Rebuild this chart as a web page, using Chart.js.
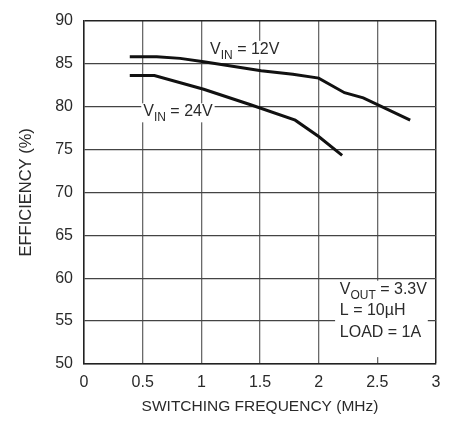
<!DOCTYPE html>
<html>
<head>
<meta charset="utf-8">
<script src="https://cdn.jsdelivr.net/npm/chart.js@4"></script>
<style>
  html, body { margin: 0; padding: 0; background: #fff; }
  #wrap { width: 453px; height: 421px; }
</style>
</head>
<body>
<div id="wrap"><canvas id="c" width="453" height="421"></canvas></div>
<script>
// Data
const freq12 = [0.39, 0.62, 0.82, 1.02, 1.51, 1.78, 2.0, 2.22, 2.38, 2.78];
const eff12  = [85.8, 85.8, 85.6, 85.2, 84.15, 83.75, 83.3, 81.6, 81.0, 78.4];
const freq24 = [0.39, 0.6, 1.02, 1.42, 1.8, 2.0, 2.2];
const eff24  = [83.6, 83.6, 82.0, 80.2, 78.4, 76.5, 74.3];
const xTicks = [0, 0.5, 1, 1.5, 2, 2.5, 3];
const yTicks = [50, 55, 60, 65, 70, 75, 80, 85, 90];
const xTitle = 'SWITCHING FREQUENCY (MHz)';
const yTitle = 'EFFICIENCY (%)';
const label12 = ['V', 'IN', ' = 12V'];
const label24 = ['V', 'IN', ' = 24V'];
const noteLines = [['V', 'OUT', ' = 3.3V'], ['L = 10µH', '', ''], ['LOAD = 1A', '', '']];

const FONT = '"Liberation Sans", Arial, sans-serif';
const INK = '#2a2a2a';

function pts(xs, ys) { return xs.map((x, i) => ({ x: x, y: ys[i] })); }

function drawSub(ctx, x, y, parts, big, small) {
  ctx.textBaseline = 'alphabetic';
  ctx.textAlign = 'left';
  ctx.font = big + 'px ' + FONT;
  ctx.fillText(parts[0], x, y);
  let cx = x + ctx.measureText(parts[0]).width;
  if (parts[1]) {
    ctx.font = small + 'px ' + FONT;
    ctx.fillText(parts[1], cx, y + 5);
    cx += ctx.measureText(parts[1]).width;
  }
  if (parts[2]) {
    ctx.font = big + 'px ' + FONT;
    ctx.fillText(parts[2], cx, y);
    cx += ctx.measureText(parts[2]).width;
  }
  return cx - x;
}
function measureSub(ctx, parts, big, small) {
  ctx.font = big + 'px ' + FONT;
  let w = ctx.measureText(parts[0]).width;
  if (parts[1]) { ctx.font = small + 'px ' + FONT; w += ctx.measureText(parts[1]).width; }
  if (parts[2]) { ctx.font = big + 'px ' + FONT; w += ctx.measureText(parts[2]).width; }
  return w;
}

const annot = {
  id: 'annot',
  afterDatasetsDraw(chart) {
    const ctx = chart.ctx;
    const xs = chart.scales.x, ys = chart.scales.y;
    ctx.save();
    const labels = [
      { parts: label12, fx: 1.074, fy: 86.13 },
      { parts: label24, fx: 0.505, fy: 78.85 }
    ];
    labels.forEach(l => {
      const px = xs.getPixelForValue(l.fx), py = ys.getPixelForValue(l.fy);
      const w = measureSub(ctx, l.parts, 16, 12);
      ctx.fillStyle = '#fff';
      ctx.fillRect(px - 2, py - 13, w + 4, 19);
      ctx.fillStyle = INK;
      drawSub(ctx, px, py, l.parts, 16, 12);
    });
    const bx0 = xs.getPixelForValue(2.14), bx1 = xs.getPixelForValue(2.93);
    const by0 = ys.getPixelForValue(59.7), by1 = ys.getPixelForValue(50.8);
    ctx.fillStyle = '#fff';
    ctx.fillRect(bx0, by0, bx1 - bx0, by1 - by0);
    ctx.fillStyle = INK;
    const tx = xs.getPixelForValue(2.18);
    const baseY = ys.getPixelForValue(58.2);
    noteLines.forEach((p, i) => drawSub(ctx, tx, baseY + i * 21.5, p, 16, 12));
    ctx.restore();
  }
};

new Chart(document.getElementById('c'), {
  type: 'line',
  data: {
    datasets: [
      { data: pts(freq12, eff12), borderColor: '#111', borderWidth: 3, pointRadius: 0, tension: 0, fill: false },
      { data: pts(freq24, eff24), borderColor: '#111', borderWidth: 3, pointRadius: 0, tension: 0, fill: false }
    ]
  },
  options: {
    responsive: false,
    animation: false,
    events: [],
    layout: { padding: { top: 13, right: 17, left: 0, bottom: 0 } },
    plugins: { legend: { display: false }, tooltip: { enabled: false } },
    scales: {
      x: {
        type: 'linear', min: 0, max: 3,
        afterBuildTicks: s => { s.ticks = xTicks.map(v => ({ value: v })); },
        afterFit: s => { s.height = 57; },
        grid: {
          drawTicks: false,
          color: c => (c.tick && c.tick.value === 3) ? '#222' : '#6a6a6a',
          lineWidth: c => (c.tick && c.tick.value === 3) ? 1.5 : 1.3
        },
        border: { color: '#222', width: 1.5 },
        ticks: { padding: 9, color: INK, font: { family: FONT, size: 16 }, maxRotation: 0, autoSkip: false,
                 callback: v => String(v) },
        title: { display: true, text: xTitle, color: INK, font: { family: FONT, size: 15.5 }, padding: { top: 0, bottom: 4.5 } }
      },
      y: {
        min: 50, max: 90,
        afterBuildTicks: s => { s.ticks = yTicks.map(v => ({ value: v })); },
        afterFit: s => { s.width = 84; },
        grid: {
          drawTicks: false,
          color: c => (c.tick && c.tick.value === 90) ? '#222' : '#444',
          lineWidth: c => (c.tick && c.tick.value === 90) ? 1.5 : 1.3
        },
        border: { color: '#222', width: 1.5 },
        ticks: { padding: 11, color: INK, font: { family: FONT, size: 16 }, autoSkip: false,
                 callback: v => String(v) },
        title: { display: true, text: yTitle, color: INK, font: { family: FONT, size: 16.5 }, padding: { top: 17, bottom: 0 } }
      }
    }
  },
  plugins: [annot]
});
</script>
</body>
</html>
